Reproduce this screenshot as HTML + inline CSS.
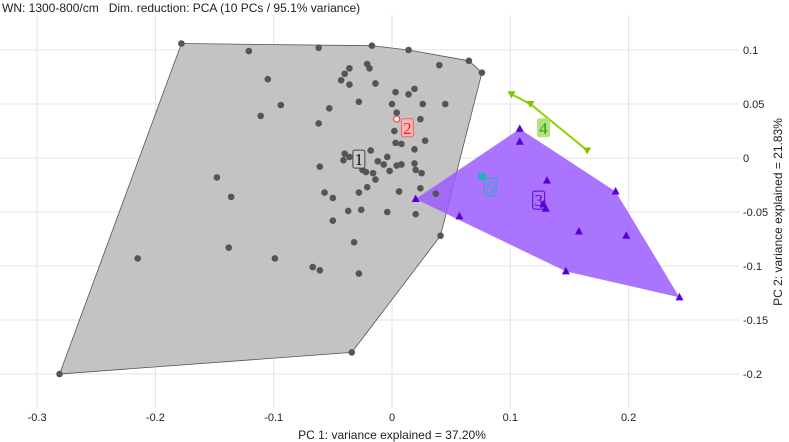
<!DOCTYPE html>
<html><head><meta charset="utf-8"><style>
html,body{margin:0;padding:0;background:#fff;width:789px;height:442px;overflow:hidden}
svg text{font-family:"Liberation Sans",sans-serif}
</style></head><body>
<svg id="chart" width="789" height="442" viewBox="0 0 789 442" xmlns="http://www.w3.org/2000/svg">
<text x="2" y="12" font-size="12" fill="#222" style="white-space:pre">WN: 1300-800/cm   Dim. reduction: PCA (10 PCs / 95.1% variance)</text>
<g id="grid"></g>
<g id="marks"></g>
<g id="axes"></g>
<text x="392" y="439" font-size="12" text-anchor="middle" fill="#222">PC 1: variance explained = 37.20%</text>
<text transform="translate(782,212) rotate(-90)" font-size="12" text-anchor="middle" fill="#222">PC 2: variance explained = 21.83%</text>
</svg>
<script>
const xTicks=[-0.3,-0.2,-0.1,0,0.1,0.2];
const xTickLabels=["-0.3","-0.2","-0.1","0","0.1","0.2"];
const yTicks=[0.1,0.05,0,-0.05,-0.1,-0.15,-0.2];
const yTickLabels=["0.1","0.05","0","-0.05","-0.1","-0.15","-0.2"];
const g1x=[-0.121,-0.062,-0.017,0.014,0.065,0.076,0.040,-0.021,-0.019,-0.036,-0.040,-0.043,-0.036,-0.014,-0.105,0.003,0.014,0.019,-0.028,0.000,0.026,0.045,-0.053,-0.094,-0.111,-0.062,0.004,0.024,0.002,0.028,0.003,0.008,0.019,-0.018,-0.040,-0.041,-0.036,-0.012,-0.004,-0.007,-0.025,-0.022,-0.016,-0.014,-0.002,0.004,0.008,0.019,0.020,0.025,-0.061,-0.148,-0.021,-0.028,0.024,0.006,0.037,-0.057,-0.050,-0.136,-0.037,-0.026,-0.004,0.020,-0.050,-0.032,0.041,-0.138,-0.099,-0.067,-0.061,-0.028,-0.178,-0.281,-0.034,-0.215];
const g1y=[0.099,0.102,0.104,0.100,0.090,0.079,0.086,0.087,0.083,0.083,0.078,0.072,0.068,0.069,0.073,0.061,0.059,0.064,0.052,0.050,0.050,0.050,0.046,0.049,0.039,0.032,0.042,0.036,0.025,0.016,0.014,0.013,0.008,0.007,0.004,-0.002,0.001,-0.003,0.001,-0.006,-0.011,-0.013,-0.014,-0.020,-0.012,-0.007,-0.006,-0.005,-0.011,-0.014,-0.008,-0.018,-0.027,-0.032,-0.028,-0.031,-0.033,-0.032,-0.037,-0.036,-0.049,-0.048,-0.050,-0.052,-0.058,-0.078,-0.072,-0.083,-0.093,-0.101,-0.104,-0.107,0.106,-0.200,-0.180,-0.093];
const g2x=[0.004], g2y=[0.036];
const g3x=[0.020,0.108,0.108,0.131,0.189,0.128,0.130,0.057,0.158,0.198,0.147,0.243];
const g3y=[-0.038,0.027,0.015,-0.021,-0.031,-0.043,-0.047,-0.054,-0.068,-0.072,-0.105,-0.129];
const g4x=[0.101,0.117,0.165], g4y=[0.059,0.050,0.007];
const g5x=[0.076], g5y=[-0.017];
const groupLabels=["1","2","3","4","5"];

const X=v=>392+v*1183, Y=v=>158-v*1080;
const NS="http://www.w3.org/2000/svg";
function mk(tag,parent,attrs){const e=document.createElementNS(NS,tag);for(const k in attrs)e.setAttribute(k,attrs[k]);parent.appendChild(e);return e;}
const grid=document.getElementById('grid'),marks=document.getElementById('marks'),axes=document.getElementById('axes');
xTicks.forEach((t,i)=>{
  const l=mk('line',grid,{x1:X(t),x2:X(t),y1:15,y2:408,stroke:'#e3e3e3','stroke-width':1});
  
  
  const tx=mk('text',axes,{x:X(t),y:421,'font-size':11,'text-anchor':'middle',fill:'#222'});
  tx.textContent=xTickLabels[i];
  
  
});
yTicks.forEach((t,i)=>{
  const l=mk('line',grid,{x1:0,x2:739,y1:Y(t),y2:Y(t),stroke:'#e3e3e3','stroke-width':1});
  
  
  const tx=mk('text',axes,{x:743,y:Y(t)+4,'font-size':11,fill:'#222'});
  tx.textContent=yTickLabels[i];
  
  
});
function hull(xs,ys){
  const p=xs.map((x,i)=>[X(x),Y(ys[i])]).sort((a,b)=>a[0]-b[0]||a[1]-b[1]);
  const cr=(o,a,b)=>(a[0]-o[0])*(b[1]-o[1])-(a[1]-o[1])*(b[0]-o[0]);
  const lo=[],up=[];
  for(const q of p){while(lo.length>=2&&cr(lo[lo.length-2],lo[lo.length-1],q)<=0)lo.pop();lo.push(q);}
  for(const q of p.slice().reverse()){while(up.length>=2&&cr(up[up.length-2],up[up.length-1],q)<=0)up.pop();up.push(q);}
  return lo.slice(0,-1).concat(up.slice(0,-1)).map(q=>q.join(',')).join(' ');
}
const h1=mk('polygon',marks,{points:hull(g1x,g1y),fill:'#c3c3c3',stroke:'#555','stroke-width':0.8});


const h3=mk('polygon',marks,{points:hull(g3x,g3y),fill:'#9b5cff','fill-opacity':0.85,stroke:'none'});


g1x.forEach((x,i)=>{
  const c=mk('circle',marks,{cx:X(x),cy:Y(g1y[i]),r:3.3,fill:'#555'});
  
  
});
g2x.forEach((x,i)=>{
  const c=mk('circle',marks,{cx:X(x),cy:Y(g2y[i]),r:3,fill:'#fff',stroke:'#e33','stroke-width':1});
  
  
});
g3x.forEach((x,i)=>{
  const cx=X(x),cy=Y(g3y[i]);
  const t=mk('polygon',marks,{points:`${cx},${cy-4.5} ${cx-4},${cy+3} ${cx+4},${cy+3}`,fill:'#5b00d6'});
  
  
});
const l4=mk('polyline',marks,{points:g4x.map((x,i)=>X(x)+','+Y(g4y[i])).join(' '),fill:'none',stroke:'#8ad400','stroke-width':2});


g4x.forEach((x,i)=>{
  const cx=X(x),cy=Y(g4y[i]);
  const t=mk('polygon',marks,{points:`${cx-4},${cy-3} ${cx+4},${cy-3} ${cx},${cy+4}`,fill:'#7cc400'});
  
  
});
g5x.forEach((x,i)=>{
  const r=mk('rect',marks,{x:X(x)-3.5,y:Y(g5y[i])-3.5,width:7,height:7,fill:'#1ab5b5'});
  
  
});
const labInfo=[[g1x,g1y,'#111','#c8c8c8','#444',-0.028,-0.001],[g2x,g2y,'#e22','#f2b8b8','#e66',0.013,0.028],[g3x,g3y,'#5b00d6','none','#5b00d6',0.124,-0.039],[g4x,g4y,'#2a9a2a','#b5e07a','#b5e07a',0.128,0.028],[g5x,g5y,'#1ab5b5','none','#1ab5b5',0.083,-0.027]];
labInfo.forEach((d,i)=>{
  const cx=X(d[5]),cy=Y(d[6]);
  const r=mk('rect',marks,{x:cx-6,y:cy-9,width:12,height:18,rx:2,fill:d[3],stroke:d[4],'stroke-width':1});
  
  
  const t=mk('text',marks,{x:cx,y:cy+6,'font-size':17,'text-anchor':'middle',fill:d[2],style:'font-family:"Liberation Serif",serif'});
  t.textContent=groupLabels[i];
  
  
});
</script>
</body></html>
